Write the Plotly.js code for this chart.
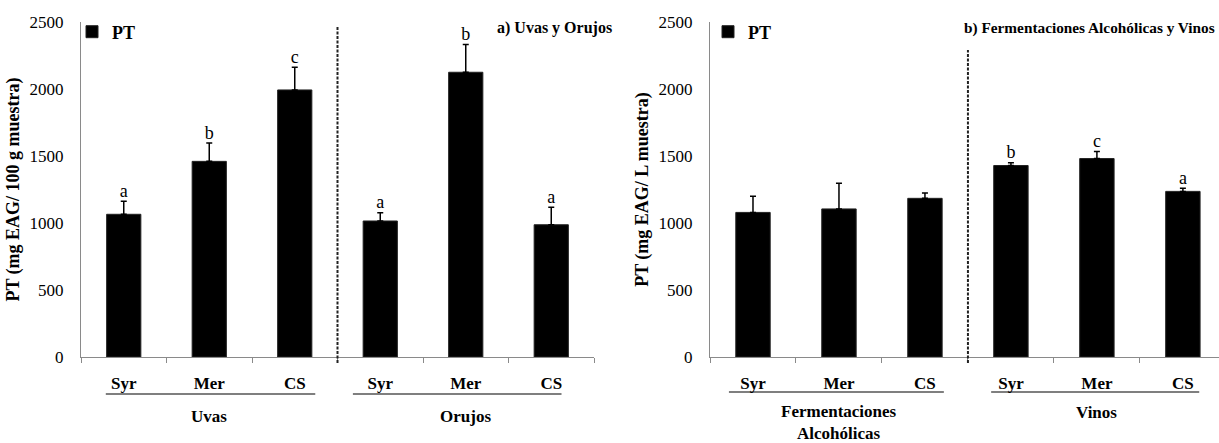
<!DOCTYPE html>
<html>
<head>
<meta charset="utf-8">
<script src="https://cdn.plot.ly/plotly-3.0.1.min.js"></script>
<style>
  html, body { margin: 0; padding: 0; background: #fff; }
  #chart { width: 1219px; height: 443px; }
</style>
</head>
<body>
<div id="chart"></div>
<script>
// Polifenoles totales (PT) por cultivar
const cultivars = ['Syr', 'Mer', 'CS', 'Syr', 'Mer', 'CS'];
const positions = [0, 1, 2, 3, 4, 5];

// a) Uvas y Orujos (mg EAG / 100 g muestra)
const groupsA = ['Uvas', 'Orujos'];
const ptA = [1065, 1460, 1993, 1015, 2125, 987];
const errA = [97, 137, 169, 62, 208, 130];
const lettersA = ['a', 'b', 'c', 'a', 'b', 'a'];

// b) Fermentaciones Alcohólicas y Vinos (mg EAG / L muestra)
const groupsB = ['Fermentaciones<br>Alcohólicas', 'Vinos'];
const ptB = [1079, 1105, 1184, 1429, 1481, 1236];
const errB = [120, 191, 40, 20, 52, 23];
const lettersB = ['', '', '', 'b', 'c', 'a'];

const noLower = [0, 0, 0, 0, 0, 0];
const yTicks = [0, 500, 1000, 1500, 2000, 2500];
const boundaries = [-0.5, 0.5, 1.5, 2.5, 3.5, 4.5, 5.5];

const FONT = 'Liberation Serif';
const AXIS_GREY = '#8a8a8a';
const W = 1219, H = 443;
const px = v => v / W;          // horizontal pixel -> paper
const py = v => 1 - v / H;      // vertical pixel -> paper

function barTrace(y, err, xa, ya, legend) {
  return {
    type: 'bar', x: positions, y: y, name: 'PT',
    xaxis: xa, yaxis: ya, legend: legend, showlegend: true,
    width: 0.4,
    marker: { color: '#000', line: { color: '#222', width: 1 } },
    error_y: { type: 'data', symmetric: false, array: err, arrayminus: noLower,
               color: '#000', thickness: 1.5, width: 3 },
    hoverinfo: 'x+y'
  };
}

function letterTrace(y, err, letters, xa, ya) {
  return {
    type: 'scatter', mode: 'text', x: positions,
    y: y.map((v, i) => v + err[i]),
    text: letters, textposition: 'top center',
    textfont: { family: FONT, size: 18, color: '#000' },
    xaxis: xa, yaxis: ya, showlegend: false, hoverinfo: 'skip'
  };
}

function xAxis(domain, range) {
  return {
    domain: domain, range: range, type: 'linear', fixedrange: true,
    tickmode: 'array', tickvals: positions, ticktext: cultivars,
    ticks: '', ticklabelstandoff: 11,
    tickfont: { family: FONT, size: 17, color: '#000', weight: 'bold' },
    showline: true, linecolor: AXIS_GREY, linewidth: 1,
    showgrid: false, zeroline: false,
    minor: { tickmode: 'array', tickvals: boundaries, ticks: 'outside',
             ticklen: 5, tickcolor: AXIS_GREY, tickwidth: 1, showgrid: false }
  };
}

function yAxis(anchor, title) {
  return {
    anchor: anchor, domain: [py(357), py(22)], range: [0, 2500], fixedrange: true,
    tickmode: 'array', tickvals: yTicks, ticks: '', ticklabelstandoff: 13,
    tickfont: { family: FONT, size: 17, color: '#000' },
    showline: true, linecolor: AXIS_GREY, linewidth: 1,
    showgrid: false, zeroline: false,
    title: { text: title, standoff: 5,
             font: { family: FONT, size: 18, color: '#000', weight: 'bold' } }
  };
}

const data = [
  barTrace(ptA, errA, 'x', 'y', 'legend'),
  letterTrace(ptA, errA, lettersA, 'x', 'y'),
  barTrace(ptB, errB, 'x2', 'y2', 'legend2'),
  letterTrace(ptB, errB, lettersB, 'x2', 'y2')
];

const titleFont = { family: FONT, size: 16, color: '#000', weight: 'bold' };
const titleFontB = { family: FONT, size: 15.3, color: '#000', weight: 'bold' };
const groupFont = { family: FONT, size: 17, color: '#000', weight: 'bold' };

const legendStyle = (x) => ({
  x: x, y: py(32), xanchor: 'left', yanchor: 'middle',
  bgcolor: 'rgba(0,0,0,0)', borderwidth: 0,
  font: { family: FONT, size: 18, color: '#000', weight: 'bold' },
  itemwidth: 30, tracegroupgap: 0
});

const layout = {
  width: W, height: H,
  margin: { l: 0, r: 0, t: 0, b: 0 },
  paper_bgcolor: '#fff', plot_bgcolor: '#fff',
  font: { family: FONT, color: '#000' },
  bargap: 0.6,
  xaxis: xAxis([px(81), px(594)], [-0.5, 5.5]),
  yaxis: yAxis('x', 'PT (mg EAG/ 100 g muestra)'),
  xaxis2: xAxis([px(710), 1], [-0.5, 5.42]),
  yaxis2: yAxis('x2', 'PT (mg EAG/ L muestra)'),
  legend: legendStyle(px(72)),
  legend2: legendStyle(px(708)),
  shapes: [
    // separators between sample groups
    { type: 'line', xref: 'x', yref: 'paper', x0: 2.5, x1: 2.5, y0: py(363), y1: py(26),
      line: { color: '#222', width: 2, dash: '3px,1.5px' } },
    { type: 'line', xref: 'x2', yref: 'paper', x0: 2.5, x1: 2.5, y0: py(363), y1: py(50),
      line: { color: '#222', width: 2, dash: '3px,1.5px' } },
    // group underlines
    { type: 'line', xref: 'x', yref: 'paper', x0: -0.21, x1: 2.24, y0: py(394), y1: py(394),
      line: { color: '#000', width: 1.2 } },
    { type: 'line', xref: 'x', yref: 'paper', x0: 2.68, x1: 5.12, y0: py(394), y1: py(394),
      line: { color: '#000', width: 1.2 } },
    { type: 'line', xref: 'x2', yref: 'paper', x0: -0.28, x1: 2.22, y0: py(392), y1: py(392),
      line: { color: '#000', width: 1.2 } },
    { type: 'line', xref: 'x2', yref: 'paper', x0: 2.77, x1: 5.19, y0: py(392), y1: py(392),
      line: { color: '#000', width: 1.2 } }
  ],
  annotations: [
    { text: 'a) Uvas y Orujos', xref: 'paper', yref: 'paper', x: px(614), y: py(28),
      xanchor: 'right', yanchor: 'middle', showarrow: false, font: titleFont },
    { text: 'b) Fermentaciones Alcohólicas y Vinos', xref: 'paper', yref: 'paper',
      x: px(1217), y: py(28), xanchor: 'right', yanchor: 'middle', showarrow: false, font: titleFontB },
    { text: groupsA[0], xref: 'x', yref: 'paper', x: 1, y: py(416),
      xanchor: 'center', yanchor: 'middle', showarrow: false, font: groupFont },
    { text: groupsA[1], xref: 'x', yref: 'paper', x: 4, y: py(416),
      xanchor: 'center', yanchor: 'middle', showarrow: false, font: groupFont },
    { text: groupsB[0], xref: 'x2', yref: 'paper', x: 1, y: py(422),
      xanchor: 'center', yanchor: 'middle', showarrow: false, font: groupFont },
    { text: groupsB[1], xref: 'x2', yref: 'paper', x: 4, y: py(412),
      xanchor: 'center', yanchor: 'middle', showarrow: false, font: groupFont }
  ]
};

Plotly.newPlot('chart', data, layout, { displayModeBar: false, staticPlot: true });
</script>
</body>
</html>
